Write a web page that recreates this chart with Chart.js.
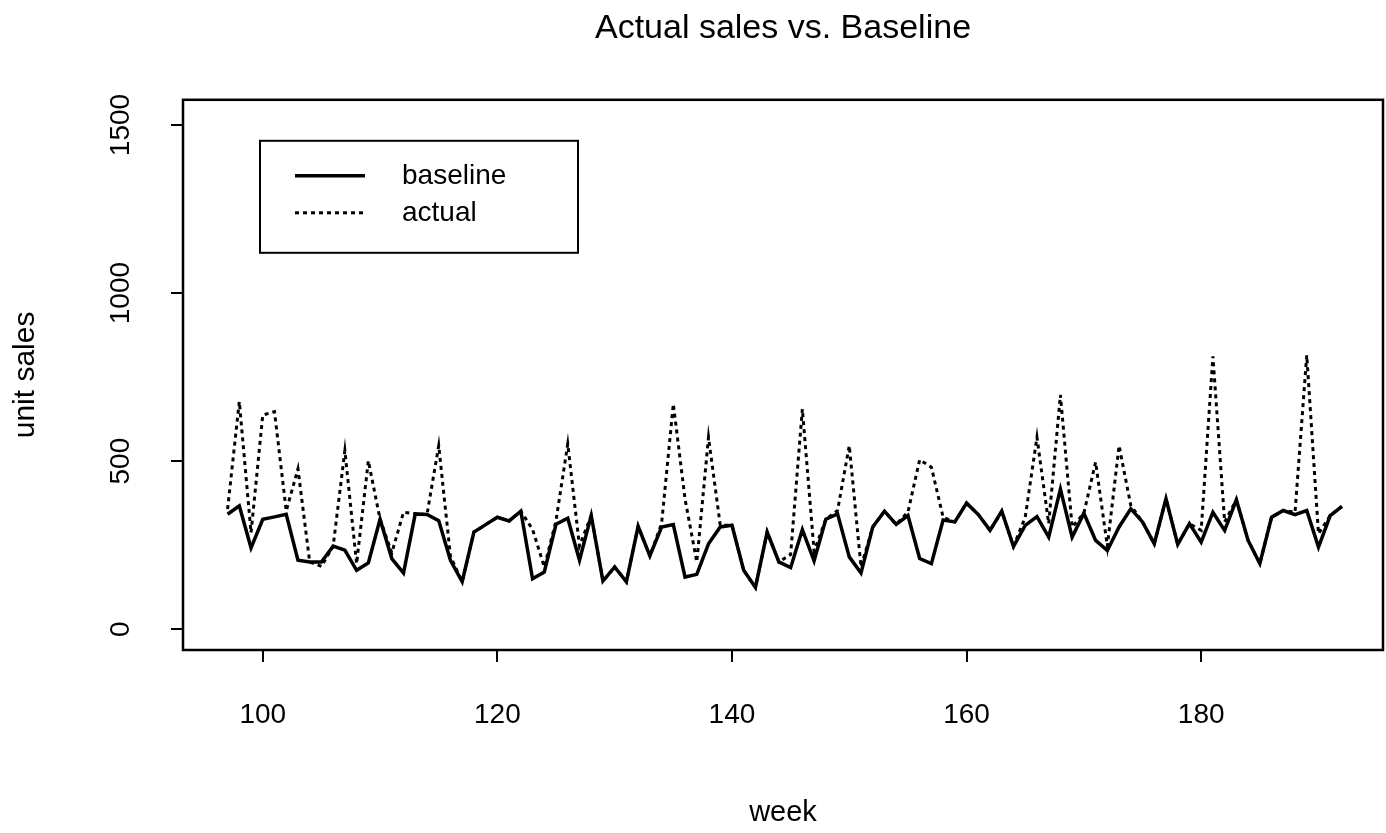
<!DOCTYPE html>
<html>
<head>
<meta charset="utf-8">
<title>Actual sales vs. Baseline</title>
<script src="https://cdn.jsdelivr.net/npm/chart.js@4.4.0/dist/chart.umd.min.js"></script>
<style>
  html, body { margin: 0; padding: 0; background: #fff; }
  #wrap { width: 1386px; height: 833px; }
</style>
</head>
<body>
<div id="wrap"><canvas id="salesChart" width="1386" height="833"></canvas></div>
<script>
// --- data (weeks 97..192) ---
const weeks = [];
for (let w = 97; w <= 192; w++) weeks.push(w);

const baseline = [
  342, 367, 242, 327, 334, 342, 205, 200, 200, 247,   // 97-106
  235, 175, 197, 327, 210, 167, 343, 341, 323, 205,   // 107-116
  141, 289, 311, 333, 322, 351, 150, 170, 312, 330,   // 117-126
  205, 338, 143, 185, 141, 306, 218, 304, 311, 155,   // 127-136
  163, 254, 304, 309, 175, 124, 289, 200, 183, 296,   // 137-146
  203, 327, 343, 215, 167, 304, 351, 312, 338, 210,   // 147-156
  195, 325, 319, 375, 341, 294, 351, 246, 309, 335,   // 157-166
  274, 417, 274, 345, 264, 234, 304, 358, 319, 254,   // 167-176
  388, 252, 314, 259, 348, 294, 385, 264, 195, 333,   // 177-186
  353, 341, 353, 244, 338, 365                        // 187-192
];

const actual = [
  357, 677, 287, 637, 647, 352, 477, 200, 187, 247,   // 97-106
  531, 195, 501, 327, 227, 348, 343, 341, 546, 217,   // 107-116
  141, 289, 311, 333, 322, 351, 297, 185, 323, 551,   // 117-126
  247, 338, 143, 185, 141, 306, 218, 314, 670, 387,   // 127-136
  200, 571, 309, 309, 175, 124, 289, 200, 222, 655,   // 137-146
  232, 327, 353, 546, 185, 304, 351, 312, 348, 504,   // 147-156
  482, 333, 319, 375, 341, 294, 351, 246, 333, 571,   // 157-166
  314, 697, 304, 345, 497, 247, 546, 368, 319, 254,   // 167-176
  388, 252, 314, 294, 812, 319, 385, 264, 195, 333,   // 177-186
  353, 348, 815, 284, 338, 365                        // 187-192
];

const xTicks = [100, 120, 140, 160, 180];
const yTicks = [0, 500, 1000, 1500];

const seriesNames = ['baseline', 'actual'];
const chartTitle = 'Actual sales vs. Baseline';
const xTitle = 'week';
const yTitle = 'unit sales';

Chart.defaults.font.family = '"Liberation Sans", Arial, Helvetica, sans-serif';
Chart.defaults.color = '#000';

// box around the plot region, like R's box()
const frameBox = {
  id: 'frameBox',
  afterDatasetsDraw(chart) {
    const a = chart.chartArea, ctx = chart.ctx;
    ctx.save();
    ctx.strokeStyle = '#000';
    ctx.lineWidth = 2.5;
    ctx.strokeRect(a.left, a.top, a.right - a.left, a.bottom - a.top);
    ctx.restore();
  }
};

// boxed legend in the upper-left of the plot
const boxLegend = {
  id: 'boxLegend',
  afterDraw(chart) {
    const a = chart.chartArea, ctx = chart.ctx;
    const left = a.left + 77, top = a.top + 41, w = 318, h = 112;
    ctx.save();
    ctx.strokeStyle = '#000';
    ctx.lineWidth = 2;
    ctx.setLineDash([]);
    ctx.strokeRect(left, top, w, h);
    ctx.font = '28px "Liberation Sans", Arial, sans-serif';
    ctx.fillStyle = '#000';
    ctx.textBaseline = 'middle';
    chart.data.datasets.forEach((ds, i) => {
      const y = top + 35 + i * 37;
      ctx.beginPath();
      ctx.lineWidth = ds.borderWidth;
      ctx.setLineDash(ds.borderDash || []);
      ctx.moveTo(left + 35, y);
      ctx.lineTo(left + 105, y);
      ctx.stroke();
      ctx.setLineDash([]);
      ctx.fillText(ds.label, left + 142, y);
    });
    ctx.restore();
  }
};

new Chart(document.getElementById('salesChart'), {
  type: 'line',
  data: {
    datasets: [
      {
        label: seriesNames[0],
        data: weeks.map((w, i) => ({ x: w, y: baseline[i] })),
        borderColor: '#000',
        borderWidth: 3.5,
        pointRadius: 0,
        tension: 0
      },
      {
        label: seriesNames[1],
        data: weeks.map((w, i) => ({ x: w, y: actual[i] })),
        borderColor: '#000',
        borderWidth: 3,
        borderDash: [4, 4],
        pointRadius: 0,
        tension: 0
      }
    ]
  },
  options: {
    responsive: false,
    animation: false,
    devicePixelRatio: 1,
    layout: { padding: { left: 0, right: 3, top: 0, bottom: 0 } },
    plugins: {
      legend: { display: false },
      tooltip: { enabled: false },
      title: {
        display: true,
        text: chartTitle,
        fullSize: false,
        color: '#000',
        font: { size: 34, weight: 'normal' },
        padding: { top: 8, bottom: 51 }
      }
    },
    scales: {
      x: {
        type: 'linear',
        min: 93.2,
        max: 195.5,
        afterBuildTicks: s => { s.ticks = xTicks.map(v => ({ value: v })); },
        afterFit: s => { s.height = 183; },
        ticks: { font: { size: 28 }, color: '#000', padding: 36, maxRotation: 0, callback: v => String(v) },
        grid: { display: true, drawOnChartArea: false, drawTicks: true, tickLength: 12, color: '#000', lineWidth: 2 },
        border: { display: false },
        title: { display: true, text: xTitle, font: { size: 29 }, color: '#000', padding: { top: 0, bottom: 3 } }
      },
      y: {
        type: 'linear',
        min: -62,
        max: 1575,
        afterBuildTicks: s => { s.ticks = yTicks.map(v => ({ value: v })); },
        afterFit: s => { s.width = 183; },
        ticks: { font: { size: 28 }, color: '#000', padding: 19, minRotation: 90, maxRotation: 90, crossAlign: 'center', callback: v => String(v) },
        grid: { display: true, drawOnChartArea: false, drawTicks: true, tickLength: 12, color: '#000', lineWidth: 2 },
        border: { display: false },
        title: { display: true, text: yTitle, font: { size: 30 }, color: '#000', padding: { top: 8, bottom: 0 } }
      }
    }
  },
  plugins: [frameBox, boxLegend]
});
</script>
</body>
</html>
